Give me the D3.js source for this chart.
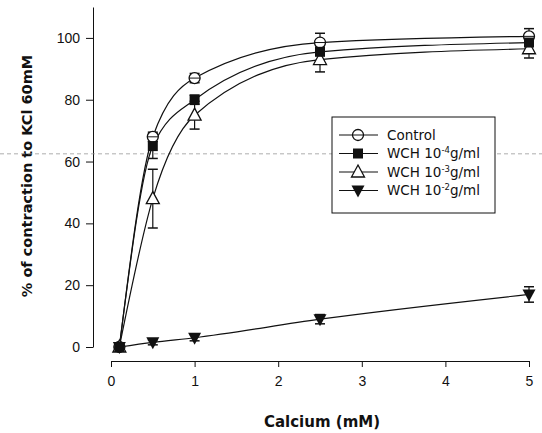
<!DOCTYPE html>
<html>
<head>
<meta charset="utf-8">
<script src="https://cdn.jsdelivr.net/npm/d3@7"></script>
<style>
    body { margin: 0; background: #fff; }
    svg { display: block; font-family: "DejaVu Sans", Arial, sans-serif; }
</style>
</head>
<body>
<div id="chart"></div>
<script>
// calcium concentrations (mM)
let calcium = [0.1, 0.5, 1, 2.5, 5];

// % of contraction
let control = [0, 68, 87, 98.5, 100.5];
let control_err = [0, 1.5, 1.5, 3, 2.5];
let wch4 = [0, 65, 80, 95.5, 98.5];
let wch4_err = [0, 4, 1.5, 3, 2.5];
let wch3 = [0, 48, 75, 93, 96.5];
let wch3_err = [0, 9.5, 4.5, 4, 3];
let wch2 = [0, 1.5, 3, 9, 17];
let wch2_err = [0, 0.8, 1, 1.5, 2.5];

let seriesNames = ['Control', 'WCH 10', 'WCH 10', 'WCH 10'];
let seriesExp = ['', '-4', '-3', '-2'];
let seriesSymbols = ['circle', 'square', 'triangle', 'down'];

let xTicks = [0, 1, 2, 3, 4, 5];
let yTicks = [0, 20, 40, 60, 80, 100];

let width = 542,
    height = 433;

let svg = d3.select('#chart')
    .append('svg')
    .attr('width', width)
    .attr('height', height);

let x = d3.scaleLinear().domain([0, 5]).range([111, 529]);
let y = d3.scaleLinear().domain([0, 110]).range([347, 7]);

let ink = '#111';

// y axis
let yAxis = svg.append('g')
    .attr('transform', 'translate(93,0)')
    .call(d3.axisLeft(y).tickValues(yTicks).tickSize(7).tickPadding(6).tickSizeOuter(0));
yAxis.select('.domain').attr('stroke', ink);
yAxis.selectAll('.tick line').attr('stroke', ink);
yAxis.selectAll('.tick text')
    .attr('fill', ink)
    .style('font-size', '14px');

// x axis (offset below the plot)
let xAxis = svg.append('g')
    .attr('transform', 'translate(0,361)')
    .call(d3.axisBottom(x).tickValues(xTicks).tickFormat(d3.format('d'))
        .tickSize(6).tickPadding(9).tickSizeOuter(0));
xAxis.select('.domain').attr('stroke', ink);
xAxis.selectAll('.tick line').attr('stroke', ink);
xAxis.selectAll('.tick text')
    .attr('fill', ink)
    .style('font-size', '14px');

// axis titles
svg.append('text')
    .attr('transform', 'translate(32,176) rotate(-90)')
    .attr('text-anchor', 'middle')
    .style('font-size', '14.5px')
    .style('font-weight', 'bold')
    .attr('fill', ink)
    .text('% of contraction to KCl 60mM');

svg.append('text')
    .attr('x', 322)
    .attr('y', 427)
    .attr('text-anchor', 'middle')
    .style('font-size', '15px')
    .style('font-weight', 'bold')
    .attr('fill', ink)
    .text('Calcium (mM)');

// scan artefact: faint dashed line across the page
svg.append('line')
    .attr('x1', 0).attr('x2', width)
    .attr('y1', y(62.5)).attr('y2', y(62.5))
    .attr('stroke', '#999')
    .attr('stroke-width', 0.8)
    .attr('stroke-dasharray', '4,3');

let series = [
    {vals: control, err: control_err},
    {vals: wch4, err: wch4_err},
    {vals: wch3, err: wch3_err},
    {vals: wch2, err: wch2_err}
];

let line = d3.line()
    .x(d => x(d[0]))
    .y(d => y(d[1]))
    .curve(d3.curveMonotoneX);

function drawSymbol(g, kind, cx, cy) {
    if (kind === 'circle') {
        g.append('circle')
            .attr('cx', cx).attr('cy', cy).attr('r', 5.5)
            .attr('fill', '#fff').attr('stroke', ink).attr('stroke-width', 1.3);
        g.append('line')
            .attr('x1', cx - 5.5).attr('x2', cx + 5.5)
            .attr('y1', cy).attr('y2', cy)
            .attr('stroke', ink).attr('stroke-width', 1);
    } else if (kind === 'square') {
        g.append('rect')
            .attr('x', cx - 5).attr('y', cy - 5)
            .attr('width', 10).attr('height', 10)
            .attr('fill', ink);
    } else if (kind === 'triangle') {
        g.append('path')
            .attr('d', 'M' + cx + ',' + (cy - 7) + 'L' + (cx + 6.5) + ',' + (cy + 5) + 'L' + (cx - 6.5) + ',' + (cy + 5) + 'Z')
            .attr('fill', '#fff').attr('stroke', ink).attr('stroke-width', 1.3);
    } else {
        g.append('path')
            .attr('d', 'M' + (cx - 6.5) + ',' + (cy - 5) + 'L' + (cx + 6.5) + ',' + (cy - 5) + 'L' + cx + ',' + (cy + 7) + 'Z')
            .attr('fill', ink);
    }
}

let plot = svg.append('g');

// lines first
series.forEach(function(s) {
    let pts = calcium.map((c, i) => [c, s.vals[i]]);
    plot.append('path')
        .attr('d', line(pts))
        .attr('fill', 'none')
        .attr('stroke', ink)
        .attr('stroke-width', 1.2);
});

// error bars
series.forEach(function(s) {
    calcium.forEach(function(c, i) {
        if (!s.err[i]) return;
        let cx = x(c);
        let top = y(s.vals[i] + s.err[i]),
            bot = y(s.vals[i] - s.err[i]);
        plot.append('line')
            .attr('x1', cx).attr('x2', cx).attr('y1', top).attr('y2', bot)
            .attr('stroke', ink).attr('stroke-width', 1.2);
        [top, bot].forEach(function(yy) {
            plot.append('line')
                .attr('x1', cx - 5).attr('x2', cx + 5).attr('y1', yy).attr('y2', yy)
                .attr('stroke', ink).attr('stroke-width', 1.5);
        });
    });
});

// markers: control at the bottom, filled ones on top
[0, 2, 1, 3].forEach(function(k) {
    let s = series[k];
    calcium.forEach(function(c, i) {
        drawSymbol(plot, seriesSymbols[k], x(c), y(s.vals[i]));
    });
});

// legend
let legend = svg.append('g');
legend.append('rect')
    .attr('x', 332).attr('y', 117)
    .attr('width', 163).attr('height', 96)
    .attr('fill', '#fff')
    .attr('stroke', ink)
    .attr('stroke-width', 1);

seriesNames.forEach(function(name, k) {
    let ly = 135 + k * 18.5;
    legend.append('line')
        .attr('x1', 339).attr('x2', 378)
        .attr('y1', ly).attr('y2', ly)
        .attr('stroke', ink).attr('stroke-width', 1.2);
    drawSymbol(legend, seriesSymbols[k], 358, ly);
    let t = legend.append('text')
        .attr('x', 387).attr('y', ly + 4.5)
        .style('font-size', '13.5px')
        .attr('fill', ink)
        .text(name);
    if (seriesExp[k]) {
        t.append('tspan')
            .attr('dy', -5)
            .style('font-size', '8.5px')
            .text(seriesExp[k]);
        t.append('tspan')
            .attr('dy', 5)
            .text('g/ml');
    }
});
</script>
</body>
</html>
